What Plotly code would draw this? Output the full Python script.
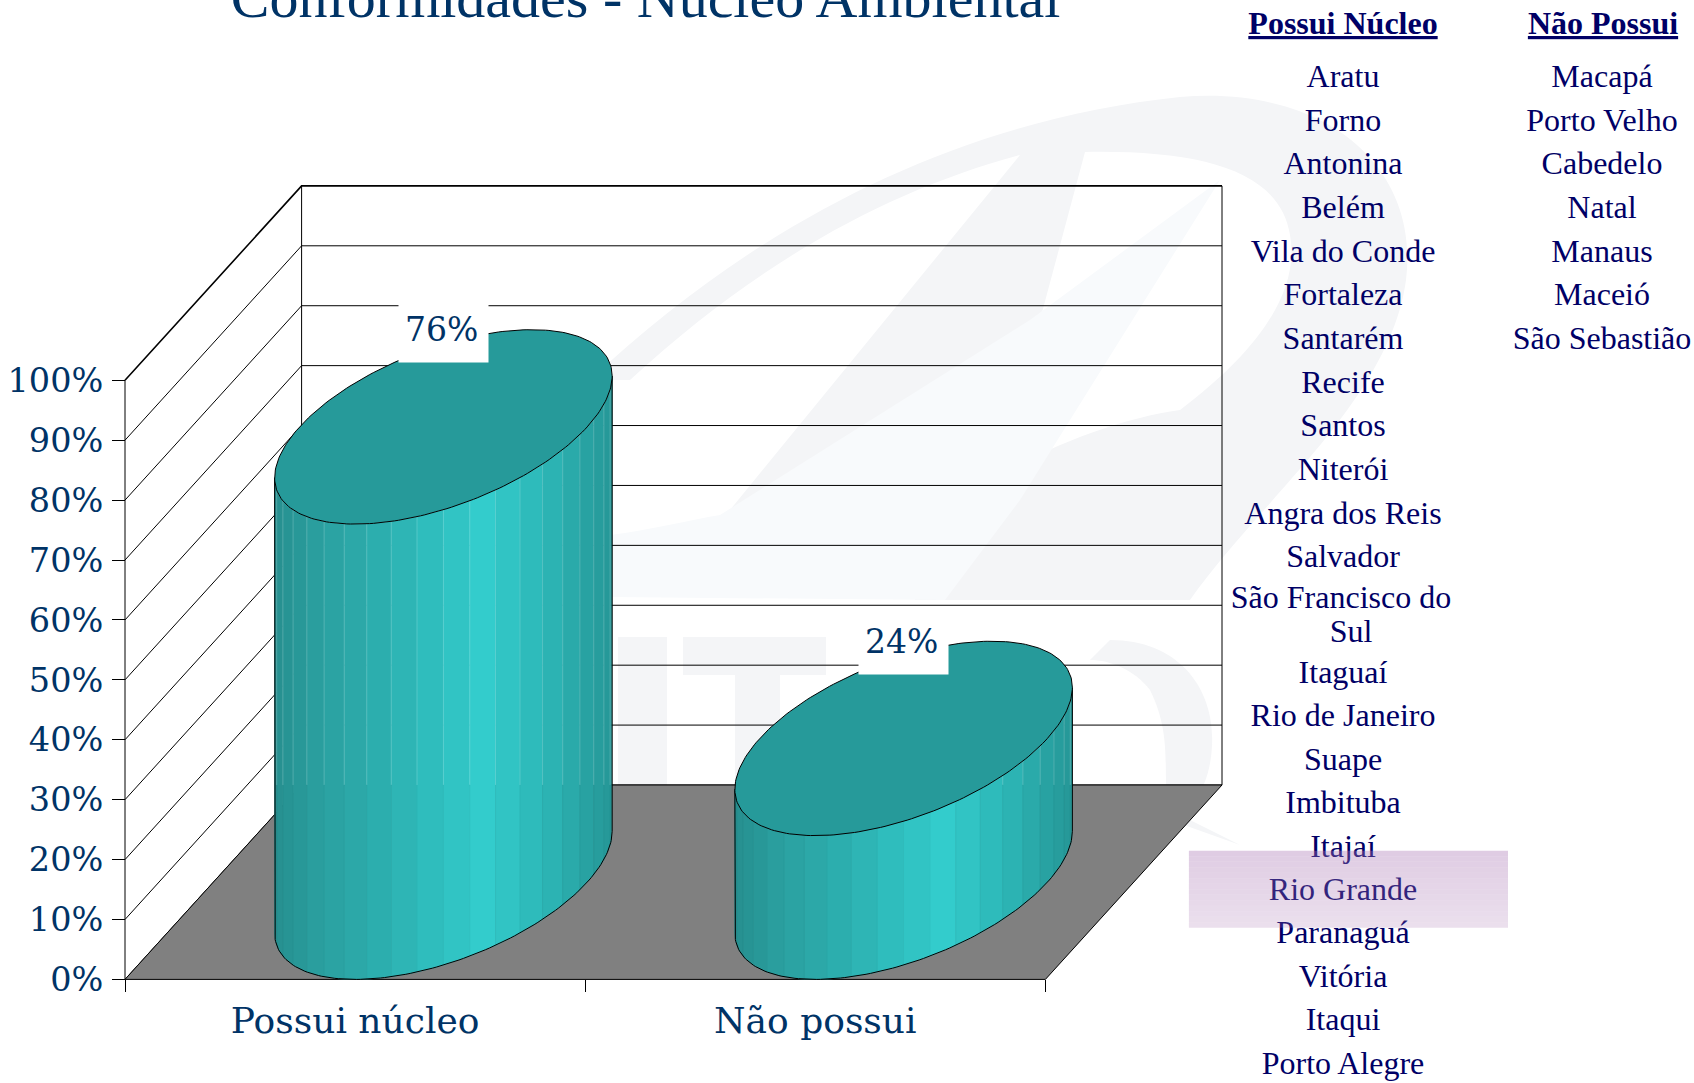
import numpy as np
import plotly.graph_objects as go

W, H = 1694, 1083

# ---------- data ----------
categories = ["Possui núcleo", "Não possui"]
values = [76, 24]
percent_labels = ["76%", "24%"]
y_ticks = [0, 10, 20, 30, 40, 50, 60, 70, 80, 90, 100]
y_tick_text = ["0%", "10%", "20%", "30%", "40%", "50%", "60%", "70%", "80%", "90%", "100%"]
title = "Conformidades - Núcleo Ambiental"
possui_header = "Possui Núcleo"
nao_header = "Não Possui"
possui_top = ["Aratu", "Forno", "Antonina", "Belém", "Vila do Conde", "Fortaleza",
              "Santarém", "Recife", "Santos", "Niterói", "Angra dos Reis", "Salvador"]
possui_wrapped = ["São Francisco do", "Sul"]
possui_bottom = ["Itaguaí", "Rio de Janeiro", "Suape", "Imbituba", "Itajaí", "Rio Grande",
                 "Paranaguá", "Vitória", "Itaqui", "Porto Alegre"]
nao_possui = ["Macapá", "Porto Velho", "Cabedelo", "Natal", "Manaus", "Maceió", "São Sebastião"]

# ---------- geometry / style ----------
X0, X1 = 125.0, 1045.4     # front plane, pixels
Y0, Y1 = 979.4, 380.3
PX_PER_CAT = (X1 - X0) / 2
PX_PER_VAL = (Y0 - Y1) / 100
DX = 176.6 / PX_PER_CAT   # depth shear expressed in category units
DY = 194.4 / PX_PER_VAL   # depth shear expressed in value units
BAR_A = 0.3125
NAVY = "#003366"
LIST_BLUE = "#000066"
AXIS_FONT = "DejaVu Serif"
N_STRIPS = 20


def proj(c, depth, v):
    return c + depth * DX, v + depth * DY


fig = go.Figure()
LINE = dict(color="black", width=1)


def add_line(xs, ys, width=1, color="black"):
    fig.add_trace(go.Scatter(x=xs, y=ys, mode="lines", line=dict(color=color, width=width),
                             hoverinfo="skip", showlegend=False))


# walls
for v in y_ticks:
    a = proj(0, 0, v); b = proj(0, 1, v); c = proj(2, 1, v)
    w = 1.6 if v == 100 else 1
    add_line([a[0], b[0], c[0]], [a[1], b[1], c[1]], width=w)
b0 = proj(0, 1, 0); b1 = proj(0, 1, 100); c0 = proj(2, 1, 0); c1 = proj(2, 1, 100)
add_line([b0[0], b1[0]], [b0[1], b1[1]])
add_line([c0[0], c1[0]], [c0[1], c1[1]])
add_line([0, 0], [0, 100])

# floor
corners = [proj(0, 0, 0), proj(2, 0, 0), proj(2, 1, 0), proj(0, 1, 0), proj(0, 0, 0)]
fig.add_trace(go.Scatter(x=[p[0] for p in corners], y=[p[1] for p in corners], mode="lines",
                         fill="toself", fillcolor="#808080", line=LINE,
                         hoverinfo="skip", showlegend=False))

# cylinders
shade_pos = [0.0, 0.12, 0.35, 0.62, 0.82, 1.0]
shade_r = [38, 42, 45, 51, 44, 37]
shade_g = [143, 158, 178, 204, 180, 150]


def ellipse(center, t, v):
    return proj(center + BAR_A * np.cos(t), 0.5 + 0.5 * np.sin(t), v)


BACK_LEVEL = DY  # value level at which the back of the floor sits on the screen
for i, val in enumerate(values):
    center = i + 0.5
    phi = np.arctan2(0.5 * DX, BAR_A)
    t_l, t_r = phi + np.pi, phi + 2 * np.pi
    edges = np.linspace(t_l, t_r, N_STRIPS + 1)
    for k in range(N_STRIPS):
        ts = np.linspace(edges[k], edges[k + 1], 5)
        tx, ty = ellipse(center, ts, val)
        bx, by = ellipse(center, ts[::-1], 0)
        ex0 = ellipse(center, t_l, 0)[0]; ex1 = ellipse(center, t_r, 0)[0]
        f = (0.5 * (ellipse(center, edges[k], 0)[0] + ellipse(center, edges[k + 1], 0)[0]) - ex0) / (ex1 - ex0)
        r = np.interp(f, shade_pos, shade_r)
        g = np.interp(f, shade_pos, shade_g)
        col = f"rgb({r:.0f},{g:.0f},{g:.0f})"
        fig.add_trace(go.Scatter(x=np.r_[tx, bx, tx[0]], y=np.r_[ty, by, ty[0]], mode="lines",
                                 fill="toself", fillcolor=col, line=dict(color=col, width=0.8),
                                 hoverinfo="skip", showlegend=False))
    # facet seams
    sx_up, sy_up, sx_lo, sy_lo = [], [], [], []
    for t in edges[1:-1]:
        tx, ty = ellipse(center, t, val)
        bx, by = ellipse(center, t, 0)
        mid = max(min(BACK_LEVEL, ty), by)
        sx_up += [tx, tx, None]; sy_up += [ty, mid, None]
        sx_lo += [tx, tx, None]; sy_lo += [mid, by, None]
    add_line(sx_up, sy_up, width=0.7, color="rgba(255,255,255,0.28)")
    add_line(sx_lo, sy_lo, width=0.7, color="rgba(0,0,0,0.05)")
    # silhouette
    ts = np.linspace(t_l, t_r, 120)
    tl = ellipse(center, t_l, val); tr = ellipse(center, t_r, val)
    bx, by = ellipse(center, ts, 0)
    add_line(np.r_[tl[0], bx, tr[0]], np.r_[tl[1], by, tr[1]])
    # top
    ts = np.linspace(0, 2 * np.pi, 240)
    tx, ty = ellipse(center, ts, val)
    fig.add_trace(go.Scatter(x=tx, y=ty, mode="lines", fill="toself", fillcolor="#269a9a", line=LINE,
                             hoverinfo="skip", showlegend=False))

# data labels: white plate, then the value on it
annotations = []
for i, (val, lab) in enumerate(zip(values, percent_labels)):
    ax_, ay_ = proj(i + 0.5, 0.5, val + DY / 2)
    annotations.append(dict(x=ax_, y=ay_, xref="x", yref="y", text=" ", showarrow=False,
                            bgcolor="white", width=87, height=57, yshift=-3,
                            font=dict(family=AXIS_FONT, size=10, color=NAVY)))
    annotations.append(dict(x=ax_, y=ay_, xref="x", yref="y", text=lab, showarrow=False,
                            xshift=-2, yshift=0,
                            font=dict(family=AXIS_FONT, size=33, color=NAVY)))

# city lists (pixel-scale overlay axis)
left_cx, right_cx = 1343, 1602
list_x, list_y, list_txt = [], [], []
for n, name in enumerate(possui_top):
    list_x.append(left_cx); list_y.append(79 + 43.65 * n); list_txt.append(name)
list_x += [1341, 1351]; list_y += [599.5, 634]; list_txt += possui_wrapped
for n, name in enumerate(possui_bottom):
    list_x.append(left_cx); list_y.append(675 + 43.4 * n); list_txt.append(name)
for n, name in enumerate(nao_possui):
    list_x.append(right_cx); list_y.append(79 + 43.65 * n); list_txt.append(name)
list_x += [1343, 1603]; list_y += [26, 26]
list_txt += [f"<b><u>{possui_header}</u></b>", f"<b><u>{nao_header}</u></b>"]
fig.add_trace(go.Scatter(x=list_x, y=list_y, text=list_txt, mode="text", xaxis="x2", yaxis="y2",
                         textposition="middle center", cliponaxis=False, hoverinfo="skip",
                         textfont=dict(family="Liberation Serif", size=32, color=LIST_BLUE),
                         showlegend=False))


# page-level decoration
def px(points):
    cmds = []
    for p in points:
        if isinstance(p, str):
            cmds.append(p)
        else:
            cmds.append(f"{p[0] / W:.5f},{1 - p[1] / H:.5f}")
    return " ".join(cmds)


WM = "#f4f5f7"
WM2 = "#f8fafc"
shapes = []
wm_paths = [
    (WM, ["M", (590, 380), "C", (760, 220), (960, 120), (1180, 97), "C", (1330, 85), (1420, 170), (1406, 280),
          "C", (1390, 400), (1260, 500), (1190, 600), "L", (915, 600), "C", (905, 560), (925, 530), (950, 500),
          "C", (1040, 450), (1110, 420), (1180, 410), "C", (1260, 350), (1300, 290), (1290, 235),
          "C", (1280, 170), (1200, 150), (1085, 152), "L", (1040, 320), "L", (730, 510), "L", (1020, 155),
          "C", (890, 190), (760, 260), (630, 380), "Z"]),
    (WM2, ["M", (720, 515), "L", (1030, 320), "L", (1220, 180), "L", (1020, 500), "L", (945, 600),
           "L", (610, 597), "L", (610, 535), "C", (650, 530), (690, 520), (720, 515), "Z"]),
    (WM, ["M", (618, 637), "L", (667, 637), "L", (667, 810), "L", (618, 810), "Z"]),
    (WM, ["M", (683, 637), "L", (826, 637), "L", (826, 675), "L", (780, 675), "L", (780, 790), "L", (735, 790),
          "L", (735, 675), "L", (683, 675), "Z"]),
    (WM, ["M", (1110, 640), "C", (1180, 640), (1215, 690), (1212, 745), "C", (1210, 790), (1190, 810), (1170, 820),
          "L", (1240, 845), "L", (1170, 810), "C", (1160, 780), (1175, 740), (1150, 690),
          "C", (1135, 670), (1110, 660), (1090, 660), "Z"]),
]
for col, pts in wm_paths:
    shapes.append(dict(type="path", xref="paper", yref="paper", layer="below", path=px(pts),
                       fillcolor=col, line=dict(width=0)))

# translucent highlight band
band_top, band_bot = 850.7, 927.7
n_band = 14
for b in range(n_band):
    y_a = band_top + (band_bot - band_top) * b / n_band
    y_b = band_top + (band_bot - band_top) * (b + 1) / n_band
    alpha = 0.38 - 0.15 * (b + 0.5) / n_band
    shapes.append(dict(type="rect", xref="paper", yref="paper", layer="above",
                       x0=1188.9 / W, x1=1508 / W, y0=1 - y_a / H, y1=1 - y_b / H,
                       fillcolor=f"rgba(170,120,180,{alpha:.3f})", line=dict(width=0)))

fig.update_layout(
    width=W, height=H, autosize=False,
    margin=dict(l=0, r=0, t=0, b=0, autoexpand=False),
    paper_bgcolor="white", plot_bgcolor="rgba(0,0,0,0)",
    showlegend=False,
    title=dict(text=title, x=645.6 / W, xanchor="center", xref="paper", yref="container",
               y=1 - 17 / H, yanchor="bottom", pad=dict(t=0, b=0),
               font=dict(family="Liberation Serif", size=58, color=NAVY)),
    xaxis=dict(domain=[0, 1], range=[-X0 / PX_PER_CAT, (W - X0) / PX_PER_CAT],
               anchor="free", position=1 - Y0 / H,
               tickvals=[0.5, 1.5], ticktext=categories,
               ticks="", showgrid=False, zeroline=False, showline=False,
               ticklabelstandoff=17, tickangle=0,
               minor=dict(tickvals=[0, 1, 2], ticks="outside", ticklen=12, tickcolor="black", tickwidth=1, showgrid=False),
               tickfont=dict(family=AXIS_FONT, size=36, color=NAVY)),
    yaxis=dict(domain=[0, 1], range=[(Y0 - H) / PX_PER_VAL, Y0 / PX_PER_VAL],
               anchor="free", position=X0 / W,
               tickvals=y_ticks, ticktext=y_tick_text,
               ticks="outside", ticklen=13, tickcolor="black", tickwidth=1, showgrid=False, zeroline=False,
               showline=False, ticklabelstandoff=2,
               tickfont=dict(family=AXIS_FONT, size=33.5, color=NAVY)),
    xaxis2=dict(domain=[0, 1], range=[0, W], visible=False, anchor="y2"),
    yaxis2=dict(domain=[0, 1], range=[H, 0], visible=False, anchor="x2"),
    annotations=annotations,
    shapes=shapes,
)

fig.write_html("out.html", config=dict(displayModeBar=False),
               post_script="document.body.style.margin='0';document.body.style.overflow='hidden';")
